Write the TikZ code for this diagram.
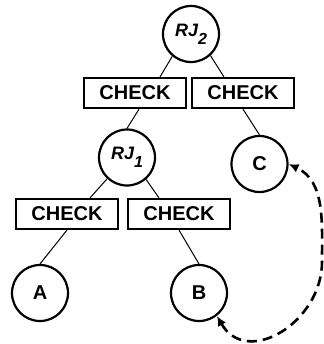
\documentclass[tikz,border=0pt]{standalone}
\usepackage{fontspec}
\setmainfont{Liberation Sans}
\usetikzlibrary{arrows.meta}

\newcommand{\rjlabel}[1]{\fontsize{9}{9}\selectfont\itshape RJ\raisebox{-4pt}{\fontsize{8}{8}\selectfont #1}}

\begin{document}
\begin{tikzpicture}[x=0.5pt,y=-0.5pt,
  rjnode/.style={circle,draw,line width=1.1pt,minimum size=28pt,inner sep=0pt,font=\bfseries},
  checkbox/.style={rectangle,draw,line width=1.1pt,minimum width=51pt,minimum height=15pt,inner sep=0pt,font=\bfseries},
  treeline/.style={line width=0.5pt},
  dashlink/.style={{Latex[length=5pt,width=4.5pt]}-{Latex[length=5pt,width=4.5pt]},line width=1.3pt,dash pattern=on 5pt off 3pt}]
\useasboundingbox (0,0) rectangle (324,344);

\node[rjnode] (0) at (191,34) {\rjlabel{2}};
\node[checkbox] (1) at (135,93) {CHECK};
\node[checkbox] (2) at (243,93) {CHECK};
\node[rjnode] (3) at (127,157.5) {\rjlabel{1}};
\node[rjnode] (4) at (259.5,164) {C};
\node[checkbox] (5) at (67,214) {CHECK};
\node[checkbox] (6) at (179,214) {CHECK};
\node[rjnode] (7) at (40,293) {A};
\node[rjnode] (8) at (199,293) {B};

\draw[treeline] (0.230)--([xshift=12.5pt]1.north);
\draw[treeline] (0.312)--([xshift=-9.5pt]2.north);
\draw[treeline] ([xshift=2pt]1.south)--(3.north);
\draw[treeline] (2.south)--(4.north);
\draw[treeline] (3.227)--([xshift=11.5pt]5.north);
\draw[treeline] (3.311)--([xshift=-10pt]6.north);
\draw[treeline] (5.south)--(7.north);
\draw[treeline] (6.south)--(8.north);

\coordinate (r) at (322,262);
\draw[dashlink] (8.-52) to[out=-60,in=-90,looseness=1.3] (r) to[out=90,in=-25] (4.east);
\end{tikzpicture}
\end{document}
